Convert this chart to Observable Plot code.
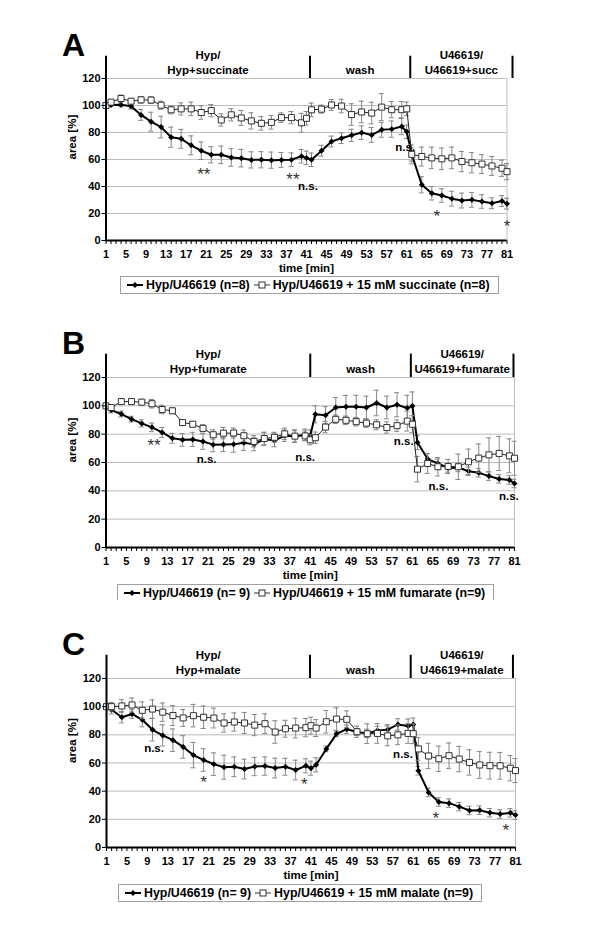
<!DOCTYPE html>
<html><head><meta charset="utf-8">
<script src="https://cdn.jsdelivr.net/npm/d3@7"></script>
<script src="https://cdn.jsdelivr.net/npm/@observablehq/plot@0.6"></script>
<style>
body{margin:0;background:#fff;}
#wrap{position:relative;width:600px;height:941px;font-family:'Liberation Sans',Arial,sans-serif;color:#000;}
.panel{position:absolute;left:0;}
.letter{position:absolute;font-weight:bold;font-size:32px;line-height:32px;}
.legend{position:absolute;border:1px solid #a0a0a0;height:16px;padding:0 5px;font-weight:bold;font-size:12.4px;white-space:nowrap;display:flex;align-items:center;background:#fff;}
.legend .item{display:flex;align-items:center;margin-right:3px;}
.legend svg{margin-right:2px;}
</style></head><body><div id="wrap"></div>
<script>
// time points [min]
const times = [1,2,4,6,8,10,12,14,16,18,20,22,24,26,28,30,32,34,36,38,40,41,42,44,46,48,50,52,54,56,58,60,61,62,64,66,68,70,72,74,76,78,80,81];

// axis titles
const yTitle = "area [%]";
const xTitle = "time [min]";

// Panel A (succinate)
const aBlack = [100,100.3,100.5,99.5,93,88,84,76.5,75.3,70.5,66.5,63.5,63.5,61.5,61,59.7,59.8,59.5,59.7,59.9,62.4,61.2,59.8,66.5,73.3,75.8,77.9,79.9,78.2,82,82.5,84.4,80.5,63.8,41.3,35,33.3,31,29.6,30.1,28.9,27.6,29.2,27.3];
const aBlackErr = [0,1,1.5,2,4,7,8,7.5,7,7,6.5,6,6.5,6.5,6.5,6,6,6,5.5,5,5,5,5,4,4,4,4.5,5,5.5,5.5,6,6,5,5,6,5,5,5.5,5.5,5.5,5,4,4,4];
const aGray = [100,102.5,105.2,103.2,104.2,104,100.2,96.8,97.5,97.5,94.8,96.2,89.3,93.1,90.8,88.6,86.8,87.5,91,91,87.2,90.5,96.8,97.3,100.4,99.6,93.3,95.2,94.4,98.8,96.9,96.9,97.5,63.8,62.2,61.2,60.5,61.2,58.5,57.6,56.6,55.2,53.5,51];
const aGrayErr = [0,1.5,2.5,2,2.5,2.5,3,3,4.5,5,5,4.5,4.5,4.5,5.5,6,5,5,3.5,4.5,7,5,5,3,4,5,8,8,8,10,6,6,5,7,7,8,8,8,7.5,7.5,7,7,6,6];
const aPhaseBounds = [1,41.7,61.7,82.1];
const aPhaseLabels = ["Hyp/\nHyp+succinate","wash","U46619/\nU46619+succ"];
const aAnnT = [20.5,38.3,41.3,60.7,67,81];
const aAnnV = [52,48,40.5,69,21,13.5];
const aAnnText = ["**","**","n.s.","n.s.","*","*"];
const aLegend = ["Hyp/U46619 (n=8)","Hyp/U46619 + 15 mM succinate (n=8)"];

// Panel B (fumarate)
const bBlack = [100,97,94.2,90.6,87.6,84.8,81.2,77.1,76,76.3,74.8,72.6,72.7,72.8,74,72.8,76.5,75.6,78.9,78.5,79.6,79,94,93.4,98.8,99.4,99.4,98.8,102,98.8,100.8,98.4,99.8,74.1,62.4,59.4,56.2,56.5,53.8,52.7,50.4,48.4,47.7,45.2];
const bBlackErr = [0,2,2,2,2.5,3,3.5,3.5,4.5,5,5.5,5,5,5.5,5.5,4.5,4.5,4.5,4,4,4,4,6,6,7,8,8,8,9,8,8.5,9,10,5,4,3,3,3,3,3,3,3,3,3];
const bGray = [100,98.8,103,103,102.6,101.5,97.4,96.5,88.2,87,84.1,79.6,80.7,80.8,78.9,74.9,76.9,77.8,80.2,78.6,78.8,76,77.5,85,90.5,89.8,88.8,87.8,86.6,84.7,86,89.2,87,55.3,59.3,57,57.2,57,60.5,63.1,65.4,66.4,64.7,63];
const bGrayErr = [0,1,1.5,1.5,2,3,3,2,2,2,2.5,3.5,4,3.5,4,4,4.5,3.5,4,4.5,3.5,3.5,4,4,3,3,3,3,3.5,4,4,7,6,9,7,6.5,5,9,9,10,12,12,12,12];
const bPhaseBounds = [1,41,60.7,80.8];
const bPhaseLabels = ["Hyp/\nHyp+fumarate","wash","U46619/\nU46619+fumarate"];
const bAnnT = [10.4,20.7,40,59.3,66.1,79.9];
const bAnnV = [75,62.4,64,75.3,43.5,35.8];
const bAnnText = ["**","n.s.","n.s.","n.s.","n.s.","n.s."];
const bLegend = ["Hyp/U46619 (n= 9)","Hyp/U46619 + 15 mM fumarate (n=9)"];

// Panel C (malate)
const cBlack = [100,97.8,92.5,94.8,90.7,83.6,79.6,76.2,71.4,65.6,62.1,59.2,57,57.3,55.7,57.5,57.8,56.4,57.3,55,58,56.3,58.7,70,80.7,84,82,81,83.1,83.7,87.4,86.2,87.4,54.5,39.1,32.3,31.5,29,26.3,26.5,24.7,23.8,24.6,23];
const cBlackErr = [0,3,4,3,5,8,7.5,8,8,9,8,8,8.5,7,7,6.5,6.5,7,6,7,5,5,5,2,2,3,2.5,3,3,3.5,4,5,4.5,3,3,3,3,3,3,3,3,3,3,3];
const cGray = [100,100,100.5,101.2,97.4,98.3,96.1,93.7,92,93.6,92.5,91.9,88.4,89.1,88.4,86.9,87.9,82,84.3,84.8,85.1,86.5,84.8,89.3,91.2,91,82.2,80.8,81,79.3,80,81,80.8,70,65,63,65.2,62.8,60.4,58.6,58.1,58,56.3,54.6];
const cGrayErr = [0,3,4.5,5,6,6.5,6.5,7,6,8,8,7,6.5,6.5,7.5,7.5,7,8,6,7,6.5,6,6,8,8,6,4,7,7,7,7,7,7,8,9,9,9,9,9,9.5,9.5,9.5,9,8.5];
const cPhaseBounds = [1,40.8,60.5,80.5];
const cPhaseLabels = ["Hyp/\nHyp+malate","wash","U46619/\nU46619+malate"];
const cAnnT = [10.3,20,39.7,59,65.4,79.1];
const cAnnV = [70.4,49,47.2,66,23.5,15.2];
const cAnnText = ["n.s.","*","*","n.s.","*","*"];
const cLegend = ["Hyp/U46619 (n= 9)","Hyp/U46619 + 15 mM malate (n=9)"];

const yTicks = [0,20,40,60,80,100,120];
const xLabelTicks = d3.range(1,82,4);
const xMinorTicks = d3.range(1,82);

const wrap = document.getElementById("wrap");
const FONT = "'Liberation Sans', Arial, sans-serif";
const ERR = "#858585";

function errMarks(rows){
  const r = rows.filter(d => d.e > 0);
  return [
    Plot.ruleX(r, {x:"t", y1:d=>d.v-d.e, y2:d=>d.v+d.e, stroke:ERR, strokeWidth:1}),
    Plot.ruleY(r, {y:d=>d.v+d.e, x1:"t", x2:"t", insetLeft:-2.5, insetRight:-2.5, stroke:ERR, strokeWidth:1}),
    Plot.ruleY(r, {y:d=>d.v-d.e, x1:"t", x2:"t", insetLeft:-2.5, insetRight:-2.5, stroke:ERR, strokeWidth:1})
  ];
}

function panel(cfg){
  const rowsB = times.map((t,i)=>({t, v:cfg.black[i], e:cfg.blackErr[i]}));
  const rowsG = times.map((t,i)=>({t, v:cfg.gray[i], e:cfg.grayErr[i]}));
  const phases = cfg.labels.map((l,i)=>({x:(cfg.bounds[i]+cfg.bounds[i+1])/2, text:l}));
  const ann = cfg.annT.map((t,i)=>({t, v:cfg.annV[i], text:cfg.annText[i]}));
  const height = cfg.marginTop + cfg.frameH + cfg.marginBottom;
  const chart = Plot.plot({
    width: 600, height,
    marginLeft: cfg.marginLeft, marginRight: cfg.marginRight,
    marginTop: cfg.marginTop, marginBottom: cfg.marginBottom,
    x: {domain:[1,81]},
    y: {domain:[0,120]},
    style: {fontFamily: FONT, fontSize:"11px", fontWeight:"bold", color:"black", background:"white", overflow:"visible"},
    marks: [
      Plot.gridY(yTicks.filter(d=>d>0), {stroke:"#bdbdbd", strokeOpacity:1}),
      Plot.ruleX([81], {stroke:"#bdbdbd"}),
      ...errMarks(rowsB),
      Plot.line(rowsB, {x:"t", y:"v", stroke:"black", strokeWidth:2}),
      Plot.dot(rowsB, {x:"t", y:"v", symbol:"diamond2", fill:"black", stroke:"none", r:2.7}),
      ...errMarks(rowsG),
      Plot.line(rowsG, {x:"t", y:"v", stroke:"#222", strokeWidth:1}),
      Plot.dot(rowsG, {x:"t", y:"v", symbol:"square", fill:"white", stroke:"#333", strokeWidth:1, r:3.4}),
      Plot.ruleY([0], {stroke:"black", strokeWidth:2}),
      Plot.ruleX([1], {stroke:"black", strokeWidth:2}),
      Plot.axisY({ticks:yTicks, tickSize:4, tickPadding:1.5, fontWeight:"bold", fontSize:11, label:null}),
      Plot.axisX({ticks:xMinorTicks, tickSize:4, text:null, label:null, strokeWidth:1}),
      Plot.axisX({ticks:xLabelTicks, tickSize:0, tickPadding:10, fontWeight:"bold", fontSize:11, label:null}),
      Plot.text([yTitle], {frameAnchor:"left", rotate:-90, dx:-34, fontSize:11.5, fontWeight:"bold"}),
      Plot.text([xTitle], {frameAnchor:"bottom", lineAnchor:"middle", dy:28, fontSize:11.5, fontWeight:"bold"}),
      Plot.ruleX(cfg.bounds, {x:d=>d, y1:120, y2:136.5, stroke:"black", strokeWidth:2}),
      Plot.text(phases, {x:"x", y:120, text:"text", dy:-5, lineAnchor:"bottom", lineHeight:1.25, fontSize:11.5, fontWeight:"bold"}),
      Plot.text(ann.filter(d=>d.text==="n.s."), {x:"t", y:"v", text:"text", fontSize:11.5, fontWeight:"bold"}),
      Plot.text(ann.filter(d=>d.text!=="n.s."), {x:"t", y:"v", text:"text", fontSize:17, fontWeight:"normal", fill:"#333", dy:4})
    ]
  });
  chart.classList.add("panel");
  chart.style.top = cfg.top + "px";
  chart.style.position = "absolute";
  wrap.appendChild(chart);

  const letter = document.createElement("div");
  letter.className = "letter";
  letter.textContent = cfg.letter;
  letter.style.left = "62px";
  letter.style.top = cfg.letterTop + "px";
  wrap.appendChild(letter);

  const lg = document.createElement("div");
  lg.className = "legend";
  lg.style.left = cfg.legendLeft + "px";
  lg.style.top = cfg.legendTop + "px";
  const sym1 = '<svg width="18" height="10"><line x1="1" y1="5" x2="17" y2="5" stroke="black" stroke-width="2"/><polygon points="9,2 12,5 9,8 6,5" fill="black"/></svg>';
  const sym2 = '<svg width="18" height="10"><line x1="1" y1="5" x2="17" y2="5" stroke="#333" stroke-width="1"/><rect x="6" y="2" width="6" height="6" fill="white" stroke="#333"/></svg>';
  lg.innerHTML = '<span class="item">'+sym1+'<span>'+cfg.legend[0]+'</span></span><span class="item">'+sym2+'<span>'+cfg.legend[1]+'</span></span>';
  wrap.appendChild(lg);
}

panel({letter:"A", letterTop:29, top:0, marginTop:78, frameH:162, marginBottom:34, marginLeft:105.5, marginRight:93.5,
  black:aBlack, blackErr:aBlackErr, gray:aGray, grayErr:aGrayErr, bounds:aPhaseBounds, labels:aPhaseLabels,
  annT:aAnnT, annV:aAnnV, annText:aAnnText, legend:aLegend, legendLeft:120, legendTop:276});
panel({letter:"B", letterTop:327, top:300, marginTop:77, frameH:170, marginBottom:34, marginLeft:105.5, marginRight:86,
  black:bBlack, blackErr:bBlackErr, gray:bGray, grayErr:bGrayErr, bounds:bPhaseBounds, labels:bPhaseLabels,
  annT:bAnnT, annV:bAnnV, annText:bAnnText, legend:bLegend, legendLeft:117, legendTop:584});
panel({letter:"C", letterTop:628, top:600, marginTop:78, frameH:169, marginBottom:34, marginLeft:106, marginRight:85,
  black:cBlack, blackErr:cBlackErr, gray:cGray, grayErr:cGrayErr, bounds:cPhaseBounds, labels:cPhaseLabels,
  annT:cAnnT, annV:cAnnV, annText:cAnnText, legend:cLegend, legendLeft:118, legendTop:884});
</script></body></html>
